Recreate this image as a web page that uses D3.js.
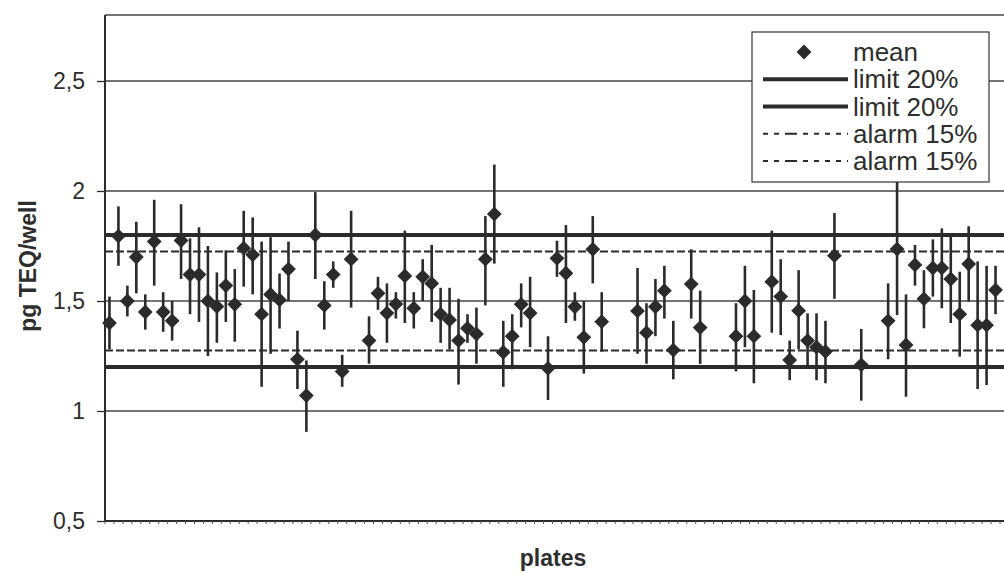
<!DOCTYPE html>
<html>
<head>
    <title>plates control chart</title>
    <script src="https://d3js.org/d3.v7.min.js"></script>
    <style>
        body { margin: 0; background: #ffffff; }
        text { font-family: "Liberation Sans", Arial, sans-serif; fill: #2e2e2e; }
        .title { font-weight: bold; font-size: 23px; }
        .ytick text { font-size: 23px; }
        .leg text { font-size: 26px; }
    </style>
</head>
<body>
    <svg id="chart" width="1004" height="573"></svg>

    <script>
        // plate numbers 1..101 (last one runs off the picture)
        var plates = d3.range(1, 102);

        // mean per plate (null = no value)
        var means = [1.40, 1.795, 1.50, 1.70, 1.45, 1.77, 1.45, 1.41, 1.775, 1.62,
                     1.62, 1.50, 1.475, 1.57, 1.485, 1.74, 1.71, 1.44, 1.53, 1.505,
                     1.645, 1.235, 1.07, 1.80, 1.48, 1.62, 1.18, 1.69, null, 1.32,
                     1.535, 1.445, 1.486, 1.614, 1.467, 1.61, 1.58, 1.44, 1.414, 1.32,
                     1.376, 1.35, 1.69, 1.895, 1.267, 1.34, 1.485, 1.445, null, 1.194,
                     1.694, 1.626, 1.474, 1.335, 1.735, 1.406, null, null, null, 1.455,
                     1.356, 1.474, 1.547, 1.277, null, 1.577, 1.379, null, null, null,
                     1.34, 1.50, 1.34, null, 1.588, 1.52, 1.232, 1.456, 1.32, 1.29,
                     1.27, 1.706, null, null, 1.21, null, null, 1.41, 1.736, 1.30,
                     1.664, 1.51, 1.65, 1.65, 1.60, 1.44, 1.668, 1.39, 1.39, 1.55,
                     null];

        // lower end of error bar
        var lows = [1.28, 1.66, 1.43, 1.535, 1.37, 1.57, 1.36, 1.32, 1.60, 1.44,
                    1.405, 1.25, 1.31, 1.405, 1.315, 1.565, 1.53, 1.11, 1.26, 1.375,
                    1.50, 1.10, 0.905, 1.60, 1.37, 1.56, 1.11, 1.47, null, 1.215,
                    1.46, 1.31, 1.42, 1.40, 1.375, 1.50, 1.405, 1.31, 1.28, 1.12,
                    1.31, 1.215, 1.48, 1.67, 1.11, 1.19, 1.38, 1.29, null, 1.05,
                    1.61, 1.40, 1.41, 1.17, 1.58, 1.27, null, null, null, 1.26,
                    1.215, 1.34, 1.42, 1.144, null, 1.42, 1.214, null, null, null,
                    1.18, 1.29, 1.126, null, 1.356, 1.345, 1.14, 1.28, 1.194, 1.14,
                    1.126, 1.51, null, null, 1.047, null, null, 1.235, 1.436, 1.065,
                    1.57, 1.376, 1.52, 1.467, 1.40, 1.247, 1.497, 1.10, 1.118, 1.44,
                    null];

        // upper end of error bar
        var highs = [1.52, 1.93, 1.57, 1.86, 1.53, 1.96, 1.54, 1.50, 1.94, 1.785,
                     1.835, 1.75, 1.63, 1.73, 1.645, 1.91, 1.88, 1.77, 1.79, 1.625,
                     1.77, 1.365, 1.23, 1.995, 1.59, 1.68, 1.255, 1.91, null, 1.43,
                     1.61, 1.58, 1.54, 1.82, 1.54, 1.69, 1.755, 1.56, 1.56, 1.51,
                     1.44, 1.47, 1.886, 2.12, 1.41, 1.44, 1.58, 1.61, null, 1.34,
                     1.774, 1.845, 1.54, 1.50, 1.886, 1.54, null, null, null, 1.65,
                     1.49, 1.60, 1.66, 1.41, null, 1.735, 1.547, null, null, null,
                     1.49, 1.66, 1.55, null, 1.82, 1.69, 1.32, 1.64, 1.444, 1.444,
                     1.41, 1.90, null, null, 1.373, null, null, 1.58, 2.06, 1.53,
                     1.755, 1.64, 1.78, 1.83, 1.795, 1.633, 1.84, 1.68, 1.66, 1.66,
                     null];

        var yTicks = [0.5, 1, 1.5, 2, 2.5];

        // control lines: limit 20% and alarm 15% around 1.5
        var limitLines = [1.8, 1.2];
        var alarmLines = [1.725, 1.275];

        var legendItems = ["mean", "limit 20%", "limit 20%", "alarm 15%", "alarm 15%"];

        var ink = "#2b2b2b";
        var plotLeft = 105, plotTop = 15, plotBottom = 521;

        var svg = d3.select("#chart");

        var x = d3.scaleBand()
                  .domain(plates)
                  .range([plotLeft, plotLeft + plates.length * 8.95]);

        var y = d3.scaleLinear()
                  .domain([0.5, 2.8])
                  .range([plotBottom, plotTop]);

        var plotRight = x.range()[1];

        var data = plates.map(function(p, i)
                                {
                                    return { plate: p, mean: means[i], lo: lows[i], hi: highs[i] };
                                })
                         .filter(function(d) { return d.mean != null; });

        // grid lines
        svg.append("g").selectAll("line")
            .data(yTicks.slice(1))
            .enter().append("line")
                .attr("x1", plotLeft).attr("x2", plotRight)
                .attr("y1", function(d) { return y(d); })
                .attr("y2", function(d) { return y(d); })
                .attr("stroke", "#444").attr("stroke-width", 1.3);

        // top border
        svg.append("line")
            .attr("x1", plotLeft).attr("x2", plotRight)
            .attr("y1", y(2.8)).attr("y2", y(2.8))
            .attr("stroke", "#444").attr("stroke-width", 1.3);

        // y axis
        var yAxis = d3.axisLeft(y)
                      .tickValues(yTicks)
                      .tickSize(8)
                      .tickPadding(12)
                      .tickFormat(function(d) { return String(d).replace(".", ","); });

        var yg = svg.append("g")
                    .attr("class", "ytick")
                    .attr("transform", "translate(" + plotLeft + ",0)")
                    .call(yAxis);
        yg.select(".domain").remove();
        yg.selectAll("line").attr("stroke", ink).attr("stroke-width", 1.3);
        yg.attr("font-family", null).attr("font-size", null);
        yg.selectAll("text").attr("fill", ink);

        svg.append("line")
            .attr("x1", plotLeft).attr("x2", plotLeft)
            .attr("y1", y(2.8)).attr("y2", plotBottom)
            .attr("stroke", ink).attr("stroke-width", 2);

        // x axis with a small tick between every plate
        svg.append("line")
            .attr("x1", plotLeft).attr("x2", plotRight)
            .attr("y1", plotBottom).attr("y2", plotBottom)
            .attr("stroke", ink).attr("stroke-width", 2);

        svg.append("g").selectAll("line")
            .data(plates)
            .enter().append("line")
                .attr("x1", function(d) { return x(d); })
                .attr("x2", function(d) { return x(d); })
                .attr("y1", plotBottom).attr("y2", plotBottom + 3)
                .attr("stroke", "#555").attr("stroke-width", 1);

        // limit and alarm lines
        svg.append("g").selectAll("line")
            .data(limitLines)
            .enter().append("line")
                .attr("x1", plotLeft).attr("x2", plotRight)
                .attr("y1", function(d) { return y(d); })
                .attr("y2", function(d) { return y(d); })
                .attr("stroke", ink).attr("stroke-width", 4);

        svg.append("g").selectAll("line")
            .data(alarmLines)
            .enter().append("line")
                .attr("x1", plotLeft).attr("x2", plotRight)
                .attr("y1", function(d) { return y(d); })
                .attr("y2", function(d) { return y(d); })
                .attr("stroke", ink).attr("stroke-width", 2.2)
                .attr("stroke-dasharray", "8,3");

        // error bars
        svg.append("g").selectAll("line")
            .data(data)
            .enter().append("line")
                .attr("x1", function(d) { return x(d.plate) + x.bandwidth() / 2; })
                .attr("x2", function(d) { return x(d.plate) + x.bandwidth() / 2; })
                .attr("y1", function(d) { return y(d.lo); })
                .attr("y2", function(d) { return y(d.hi); })
                .attr("stroke", ink).attr("stroke-width", 2.6);

        // mean diamonds
        var diamond = d3.symbol().type(d3.symbolSquare).size(110);

        svg.append("g").selectAll("path")
            .data(data)
            .enter().append("path")
                .attr("d", diamond)
                .attr("transform", function(d)
                                    {
                                        return "translate(" + (x(d.plate) + x.bandwidth() / 2) + "," + y(d.mean) + ") rotate(45)";
                                    })
                .attr("fill", ink);

        // axis titles
        svg.append("text")
            .attr("class", "title")
            .attr("x", 553).attr("y", 566)
            .attr("text-anchor", "middle")
            .text("plates");

        svg.append("text")
            .attr("class", "title")
            .attr("transform", "translate(36,266) rotate(-90)")
            .attr("text-anchor", "middle")
            .text("pg TEQ/well");

        // legend
        var leg = svg.append("g").attr("class", "leg");

        leg.append("rect")
            .attr("x", 752).attr("y", 32)
            .attr("width", 237).attr("height", 150)
            .attr("fill", "#fff").attr("stroke", "#333").attr("stroke-width", 1.2);

        var rowY = d3.scalePoint()
                     .domain(d3.range(legendItems.length))
                     .range([52, 161]);

        leg.append("path")
            .attr("d", diamond)
            .attr("transform", "translate(804," + rowY(0) + ") rotate(45)")
            .attr("fill", ink);

        leg.selectAll(".sample")
            .data([1, 2, 3, 4])
            .enter().append("line")
                .attr("class", "sample")
                .attr("x1", 763).attr("x2", 848)
                .attr("y1", function(d) { return rowY(d); })
                .attr("y2", function(d) { return rowY(d); })
                .attr("stroke", ink)
                .attr("stroke-width", function(d) { return d < 3 ? 4 : 2.2; })
                .attr("stroke-dasharray", function(d) { return d < 3 ? null : "5,6,5,6,12,6,5,6,5,6,5,6"; });

        leg.selectAll(".label")
            .data(legendItems)
            .enter().append("text")
                .attr("class", "label")
                .attr("x", 853)
                .attr("y", function(d, i) { return rowY(i) + 9; })
                .text(function(d) { return d; });
    </script>
</body>
</html>
